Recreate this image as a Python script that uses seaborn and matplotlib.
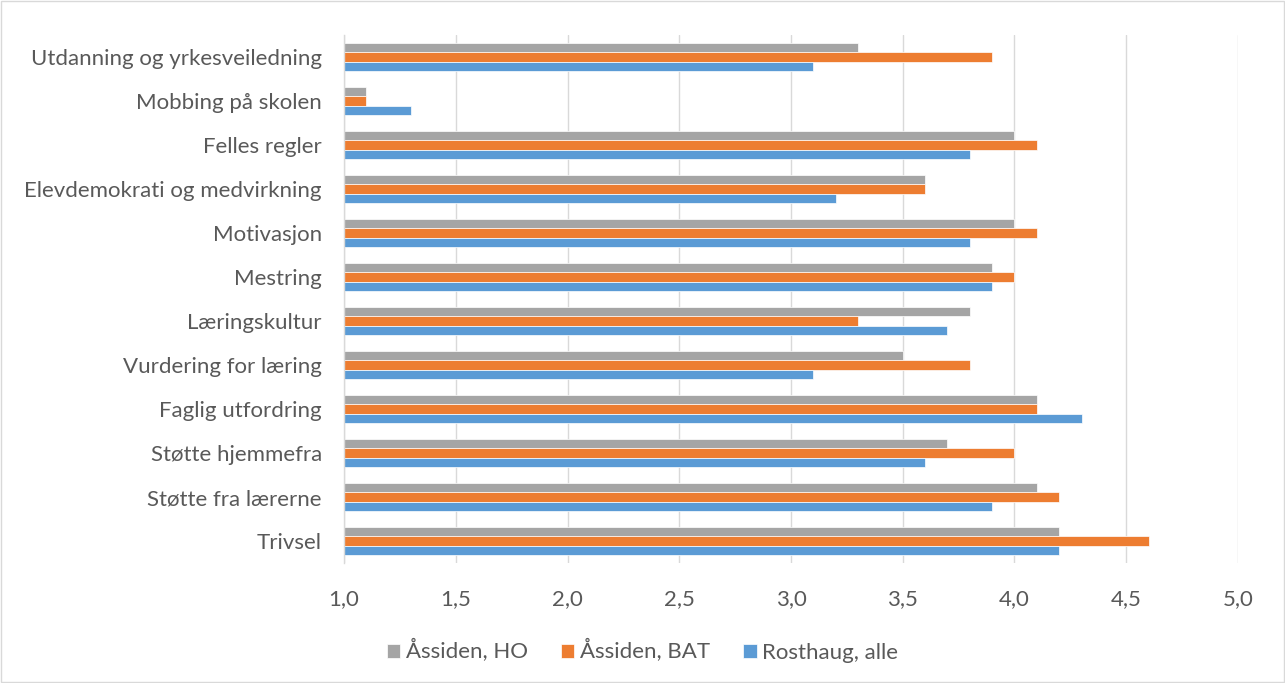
import matplotlib
matplotlib.use("Agg")
import matplotlib.pyplot as plt
import seaborn as sns
import pandas as pd
from matplotlib.patches import Rectangle

categories = [
    "Utdanning og yrkesveiledning",
    "Mobbing på skolen",
    "Felles regler",
    "Elevdemokrati og medvirkning",
    "Motivasjon",
    "Mestring",
    "Læringskultur",
    "Vurdering for læring",
    "Faglig utfordring",
    "Støtte hjemmefra",
    "Støtte fra lærerne",
    "Trivsel",
]
series_names = ["Åssiden, HO", "Åssiden, BAT", "Rosthaug, alle"]
assiden_ho = [3.3, 1.1, 4.0, 3.6, 4.0, 3.9, 3.8, 3.5, 4.1, 3.7, 4.1, 4.2]
assiden_bat = [3.9, 1.1, 4.1, 3.6, 4.1, 4.0, 3.3, 3.8, 4.1, 4.0, 4.2, 4.6]
rosthaug_alle = [3.1, 1.3, 3.8, 3.2, 3.8, 3.9, 3.7, 3.1, 4.3, 3.6, 3.9, 4.2]
colors = ["#A5A5A5", "#ED7D31", "#5B9BD5"]
xticks = [1.0, 1.5, 2.0, 2.5, 3.0, 3.5, 4.0, 4.5, 5.0]

rows = []
for name, vals in zip(series_names, [assiden_ho, assiden_bat, rosthaug_alle]):
    for c, v in zip(categories, vals):
        rows.append({"Kategori": c, "Serie": name, "Verdi": v})
df = pd.DataFrame(rows)

sns.set_theme(style="white")
plt.rcParams["font.family"] = ["Lato", "DejaVu Sans"]

fig = plt.figure(figsize=(12.85, 6.83), dpi=100)
ax = fig.add_axes([344 / 1285, 1 - 563 / 683, (1238 - 344) / 1285, (563 - 35) / 683])

sns.barplot(data=df, y="Kategori", x="Verdi", hue="Serie", order=categories,
            hue_order=series_names, palette=colors, orient="h", width=0.64,
            saturation=1, edgecolor="white", linewidth=0.5, ax=ax, legend=True)

ax.set_xlim(1.0, 5.0)
ax.set_xticks(xticks)
ax.set_xticklabels([f"{t:.1f}".replace(".", ",") for t in xticks])
ax.xaxis.grid(True, color="#D9D9D9", linewidth=1.0)
ax.set_axisbelow(True)
for s in ["top", "right", "bottom"]:
    ax.spines[s].set_visible(False)
ax.spines["left"].set_color("#D9D9D9")
ax.spines["left"].set_linewidth(1.0)
ax.set_xlabel("")
ax.set_ylabel("")
ax.tick_params(axis="both", length=0, labelsize=16, colors="#595959")
ax.tick_params(axis="x", pad=19)
ax.tick_params(axis="y", pad=16)

handles, labels = ax.get_legend_handles_labels()
ax.get_legend().remove()
fig.legend(handles, labels, loc="center", bbox_to_anchor=(0.5, 1 - 651 / 683),
           ncol=3, frameon=False, fontsize=16, labelcolor="#595959",
           handlelength=0.6, handleheight=0.6, handletextpad=0.25, columnspacing=1.5)

fig.patches.append(Rectangle((0.001, 0.001), 0.998, 0.997, transform=fig.transFigure,
                             fill=False, edgecolor="#D9D9D9", linewidth=1.0))

fig.savefig("out.png", dpi=100, facecolor="white")
